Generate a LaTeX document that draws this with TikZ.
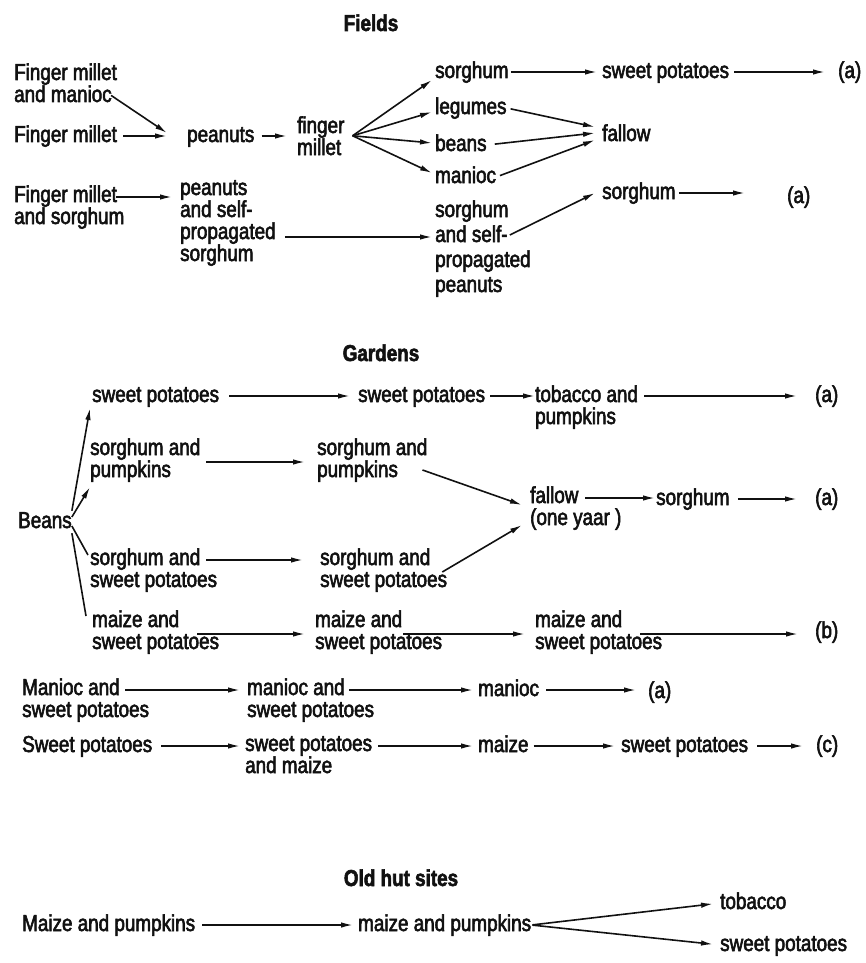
\documentclass[tikz,border=0pt]{standalone}
\usepackage{fontspec}
\setmainfont{Liberation Sans}[FakeStretch=0.82,FakeBold=2.5]
\usepackage{xcolor}
\definecolor{Ink}{HTML}{111111}
\usetikzlibrary{arrows.meta,positioning,calc}
\tikzset{
  crop/.style={inner sep=0pt,anchor=west,text height=17pt,text depth=5pt,
    font=\fontsize{23}{22}\selectfont,text=Ink},
  cropblock/.style={inner sep=0pt,anchor=base west,align=left,
    font=\fontsize{23}{22}\selectfont,text=Ink},
  head/.style={inner sep=0pt,anchor=base,font=\fontsize{23}{22}\selectfont\bfseries,text=Ink},
  flow/.style={-{Latex[length=12pt,width=5.5pt]},line width=1.6pt,draw=Ink},
  link/.style={line width=1.6pt,draw=Ink}
}

\begin{document}
\begin{tikzpicture}[x=1pt,y=-1pt]
  \useasboundingbox (0,0) rectangle (866,963);
  % Fields (blocks are placed by the baseline of their last line)
  \node[head] (fields) at (371,31) {Fields};
  \node[cropblock] (fmmanioc) at (14,102) {Finger millet\\and manioc};
  \node[crop] (fmillet) at (14,136) {Finger millet};
  \node[cropblock] (fmsorghum) at (14,224) {Finger millet\\and sorghum};
  \node[crop] (peanuts) at (187,136) {peanuts};
  \node[cropblock] (fingermillet) at (297,155) {finger\\millet};
  \node[crop] (sorghumA) at (435,72) {sorghum};
  \node[crop] (sweetA) at (602,72) {sweet potatoes};
  \node[crop] (endA) at (838,72) {(a)};
  \node[crop] (legumes) at (435,108) {legumes};
  \node[crop] (fallowA) at (602,135) {fallow};
  \node[crop] (beans) at (435,145) {beans};
  \node[crop] (manioc) at (435,177) {manioc};
  \node[cropblock] (peanutsself) at (180,261) {peanuts\\and self-\\propagated\\sorghum};
  \node[cropblock,font=\fontsize{23}{25}\selectfont] (sorghumself) at (435,292) {sorghum\\and self-\\propagated\\peanuts};
  \node[crop] (sorghumB) at (602,193) {sorghum};
  \node[crop] (endB) at (787,197) {(a)};

  \draw[flow] ([xshift=-6pt,yshift=7pt]fmmanioc.south east) -- ([xshift=-20pt,yshift=3pt]peanuts.west);
  \draw[flow,shorten <=6pt,shorten >=20pt] (fmillet) -- (peanuts);
  \draw[flow,shorten <=7pt,shorten >=10pt] (peanuts.east) -- (peanuts.east -| fingermillet.west);
  \draw[flow] ([xshift=8pt]fingermillet.east) -- ([xshift=-3pt,yshift=-8pt]sorghumA.west);
  \draw[flow] ([xshift=8pt]fingermillet.east) -- ([xshift=-3pt,yshift=-4pt]legumes.west);
  \draw[flow] ([xshift=8pt]fingermillet.east) -- ([xshift=-3pt,yshift=2pt]beans.west);
  \draw[flow] ([xshift=8pt]fingermillet.east) -- ([xshift=-3pt,yshift=4pt]manioc.west);
  \draw[flow,shorten <=2pt,shorten >=5pt] (sorghumA) -- (sweetA);
  \draw[flow,shorten <=5pt,shorten >=13pt] (sweetA) -- (endA);
  \draw[flow,shorten <=4pt] (legumes.east) -- ([xshift=-7pt,yshift=8pt]fallowA.west);
  \draw[flow,shorten <=8pt] (beans.east) -- ([xshift=-7pt,yshift=2pt]fallowA.west);
  \draw[flow,shorten <=4pt] (manioc.east) -- ([xshift=-7pt,yshift=-5pt]fallowA.west);
  \draw[flow] ([xshift=-8pt,yshift=27pt]fmsorghum.base east) -- ([xshift=-8pt,yshift=64pt]peanutsself.base west);
  \draw[flow] ([xshift=9pt,yshift=24pt]peanutsself.base east) -- ([xshift=-3pt,yshift=55pt]sorghumself.base west);
  \draw[flow] ([xshift=-21pt,yshift=57pt]sorghumself.base east) -- ([xshift=-7pt]sorghumB.west);
  \draw[flow,shorten <=3pt] (sorghumB.east) -- ([xshift=-42pt,yshift=4pt]endB.west);

  % Gardens
  \node[head] (gardens) at (381,361) {Gardens};
  \node[crop] (beansG) at (18,522) {Beans};
  \node[crop] (sweetG1) at (92,396) {sweet potatoes};
  \node[crop] (sweetG2) at (358,396) {sweet potatoes};
  \node[cropblock] (tobacco) at (535,424) {tobacco and\\pumpkins};
  \node[crop] (endC) at (815,396) {(a)};
  \node[cropblock] (sorgpumpA) at (90,477) {sorghum and\\pumpkins};
  \node[cropblock] (sorgpumpB) at (317,477) {sorghum and\\pumpkins};
  \node[cropblock] (fallowG) at (530,525) {fallow\\(one yaar )};
  \node[crop] (sorghumG) at (656,499) {sorghum};
  \node[crop] (endD) at (815,499) {(a)};
  \node[cropblock] (sorgsweetA) at (90,587) {sorghum and\\sweet potatoes};
  \node[cropblock] (sorgsweetB) at (320,587) {sorghum and\\sweet potatoes};
  \node[cropblock] (maizeA) at (92,649) {maize and\\sweet potatoes};
  \node[cropblock] (maizeB) at (315,649) {maize and\\sweet potatoes};
  \node[cropblock] (maizeC) at (535,649) {maize and\\sweet potatoes};
  \node[crop] (endE) at (815,632) {(b)};

  \draw[flow] (beansG.north east) -- ([xshift=-2pt,yshift=-12pt]sweetG1.west);
  \draw[flow] ([yshift=5pt]beansG.east) -- ([yshift=-10pt]sorgpumpA.base west);
  \draw[link] ([yshift=-4pt]beansG.east) -- ([xshift=-2pt,yshift=32pt]sorgsweetA.base west);
  \draw[link] (beansG.south east) -- ([xshift=-6pt,yshift=33pt]maizeA.base west);
  \draw[flow,shorten <=10pt,shorten >=8pt] (sweetG1) -- (sweetG2);
  \draw[flow] ([xshift=5pt]sweetG2.east) -- ([yshift=28pt]tobacco.base west);
  \draw[flow] ([xshift=6pt,yshift=28pt]tobacco.base east) -- ([xshift=-18pt]endC.west);
  \draw[flow] ([xshift=6pt,yshift=15pt]sorgpumpA.base east) -- ([xshift=-12pt,yshift=15pt]sorgpumpB.base west);
  \draw[flow] ([xshift=-5pt,yshift=7pt]sorgpumpB.base east) -- ([xshift=-8pt,yshift=20pt]fallowG.base west);
  \draw[flow] ([xshift=-5pt,yshift=15pt]sorgsweetB.base east) -- ([xshift=-8pt]fallowG.base west);
  \draw[flow] ([xshift=55pt,yshift=27pt]fallowG.base west) -- ([xshift=-1pt,yshift=1pt]sorghumG.west);
  \draw[flow,shorten <=8pt,shorten >=18pt] (sorghumG.east) -- (sorghumG.east -| endD.west);
  \draw[flow] ([xshift=116pt,yshift=27pt]sorgsweetA.base west) -- ([xshift=-17pt,yshift=27pt]sorgsweetB.base west);
  \draw[flow] ([xshift=105pt,yshift=15pt]maizeA.base west) -- ([xshift=-10pt,yshift=15pt]maizeB.base west);
  \draw[flow] ([xshift=88pt,yshift=15pt]maizeB.base west) -- ([xshift=-10pt,yshift=15pt]maizeC.base west);
  \draw[flow] ([xshift=105pt,yshift=15pt]maizeC.base west) -- ([xshift=-17pt,yshift=-2pt]endE.west);

  % Manioc and sweet potato rows
  \node[cropblock] (maniocsweet) at (22,717) {Manioc and\\sweet potatoes};
  \node[cropblock] (maniocB) at (247,717) {manioc and\\sweet potatoes};
  \node[crop] (maniocC) at (478,690) {manioc};
  \node[crop] (endF) at (648,692) {(a)};
  \node[crop] (sweetP) at (22,746) {Sweet potatoes};
  \node[cropblock] (sweetmaize) at (245,773) {sweet potatoes\\and maize};
  \node[crop] (maizeD) at (478,746) {maize};
  \node[crop] (sweetQ) at (621,746) {sweet potatoes};
  \node[crop] (endG) at (816,746) {(c)};

  \draw[flow] ([xshift=103pt,yshift=27pt]maniocsweet.base west) -- ([xshift=-7pt,yshift=27pt]maniocB.base west);
  \draw[flow] ([xshift=102pt,yshift=27pt]maniocB.base west) -- ([xshift=-5pt]maniocC.west);
  \draw[flow,shorten <=7pt,shorten >=12pt] (maniocC.east) -- (maniocC.east -| endF.west);
  \draw[flow] ([xshift=9pt]sweetP.east) -- ([xshift=-5pt,yshift=27pt]sweetmaize.base west);
  \draw[flow] ([xshift=6pt,yshift=27pt]sweetmaize.base east) -- ([xshift=-5pt]maizeD.west);
  \draw[flow,shorten <=5pt,shorten >=6pt] (maizeD) -- (sweetQ);
  \draw[flow,shorten <=9pt,shorten >=13pt] (sweetQ) -- (endG);

  % Old hut sites
  \node[head] (oldhut) at (401,886) {Old hut sites};
  \node[crop] (maizepumpA) at (22,925) {Maize and pumpkins};
  \node[crop] (maizepumpB) at (358,925) {maize and pumpkins};
  \node[crop] (tobaccoH) at (720,903) {tobacco};
  \node[crop] (sweetH) at (720,945) {sweet potatoes};

  \draw[flow,shorten <=7pt,shorten >=5pt] (maizepumpA) -- (maizepumpB);
  \draw[flow,shorten <=1pt,shorten >=7pt] (maizepumpB.east) -- (tobaccoH.west);
  \draw[flow,shorten <=1pt,shorten >=7pt] (maizepumpB.east) -- (sweetH.west);
\end{tikzpicture}
\end{document}
